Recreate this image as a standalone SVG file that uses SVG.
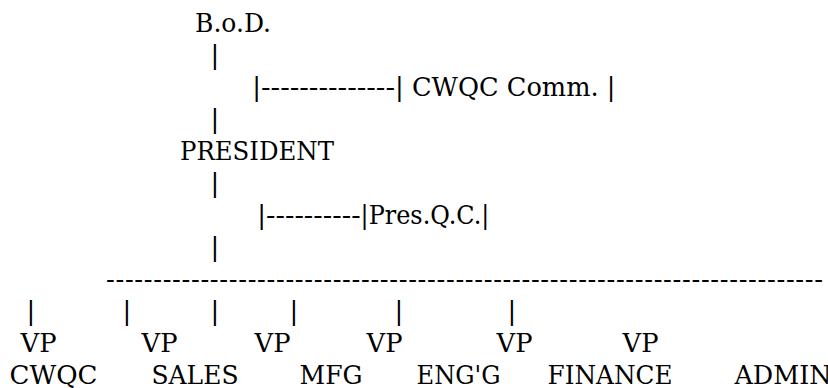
<svg xmlns="http://www.w3.org/2000/svg" width="828" height="388" viewBox="0 0 828 388">
<style>
.t { font-family: "DejaVu Serif", serif; font-size: 26px; fill: #000; }
</style>
<rect width="828" height="388" fill="#fff"/>
<g class="t">
<g id="connectors">
  <text x="210.6" y="63.5">|</text>
  <text x="252.3" y="95.5">|</text>
  <text x="261" y="95.5" textLength="134" lengthAdjust="spacingAndGlyphs">--------------</text>
  <text x="394.9" y="95.5">|</text>
  <text x="210.6" y="127.5">|</text>
  <text x="210.6" y="191.5">|</text>
  <text x="257.3" y="223.5">|</text>
  <text x="266" y="223.5" textLength="94.6" lengthAdjust="spacingAndGlyphs">----------</text>
  <text x="210.6" y="255.5">|</text>
  <text x="106" y="287.5" textLength="717" lengthAdjust="spacing">----------------------------------------------------------------------------</text>
  <text x="26.6" y="319.5">|</text>
  <text x="122.6" y="319.5">|</text>
  <text x="210.6" y="319.5">|</text>
  <text x="289.6" y="319.5">|</text>
  <text x="394.6" y="319.5">|</text>
  <text x="507.6" y="319.5">|</text>
</g>
<g id="bod"><text x="195" y="31.5" textLength="76" lengthAdjust="spacingAndGlyphs">B.o.D.</text></g>
<g id="cwqc-comm"><text x="412" y="95.5" textLength="203.4" lengthAdjust="spacingAndGlyphs">CWQC Comm. |</text></g>
<g id="president"><text x="180" y="159.5" textLength="154" lengthAdjust="spacingAndGlyphs">PRESIDENT</text></g>
<g id="pres-qc"><text x="360.6" y="223.5" textLength="128.8" lengthAdjust="spacingAndGlyphs">|Pres.Q.C.|</text></g>
<g id="vp-cwqc"><text x="20.5" y="351.5" textLength="36" lengthAdjust="spacingAndGlyphs">VP</text><text x="9.5" y="383.5" textLength="88" lengthAdjust="spacingAndGlyphs">CWQC</text></g>
<g id="vp-sales"><text x="141.5" y="351.5" textLength="36" lengthAdjust="spacingAndGlyphs">VP</text><text x="151.5" y="383.5" textLength="87" lengthAdjust="spacingAndGlyphs">SALES</text></g>
<g id="vp-mfg"><text x="254.5" y="351.5" textLength="36" lengthAdjust="spacingAndGlyphs">VP</text><text x="299.5" y="383.5" textLength="63" lengthAdjust="spacingAndGlyphs">MFG</text></g>
<g id="vp-engg"><text x="366.5" y="351.5" textLength="36" lengthAdjust="spacingAndGlyphs">VP</text><text x="416.5" y="383.5" textLength="84" lengthAdjust="spacingAndGlyphs">ENG'G</text></g>
<g id="vp-finance"><text x="496.5" y="351.5" textLength="36" lengthAdjust="spacingAndGlyphs">VP</text><text x="547.5" y="383.5" textLength="125" lengthAdjust="spacingAndGlyphs">FINANCE</text></g>
<g id="vp-admin"><text x="622.5" y="351.5" textLength="36" lengthAdjust="spacingAndGlyphs">VP</text><text x="734.5" y="383.5" textLength="97" lengthAdjust="spacingAndGlyphs">ADMIN</text></g>
</g>
</svg>
